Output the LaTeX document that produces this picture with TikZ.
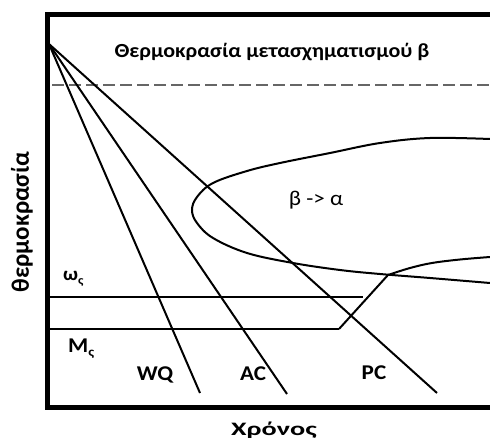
\documentclass[tikz,border=0pt]{standalone}
\usepackage{fontspec}
\setmainfont{Carlito}
\begin{document}
\begin{tikzpicture}[x=1pt,y=-1pt,
  thickline/.style={line width=2pt},
  thinline/.style={line width=1.2pt},
  framel/.style={line width=4.5pt},
  lbl/.style={font=\bfseries\fontsize{21}{22}\selectfont, inner sep=0pt, xscale=1.1, anchor=base},
  subs/.style={}]
\useasboundingbox (0,0) rectangle (490,441);
% frame
\draw[framel] (490,14.5) -- (47.5,14.5) -- (47.5,407.5) -- (490,407.5);
% dashed beta transus
\draw[line width=1.5pt, gray!80!black, dash pattern=on 12pt off 5pt] (52,85) -- (490,85);
% fan of cooling curves
\coordinate (o) at (49,44);
\coordinate (wq) at (200,393);
\coordinate (ac) at (287,394);
\coordinate (pc) at (437,393);
\draw[thickline] (o) -- (wq);
\draw[thickline] (o) -- (ac);
\draw[thickline] (o) -- (pc);
% omega_s and M_s lines
\coordinate (ws0) at (50,297);
\coordinate (ws1) at (363,297);
\coordinate (ms0) at (50,329);
\coordinate (ms1) at (339,329);
\coordinate (kn) at (388,275);
\draw[thinline] (ws0) -- (ws1);
\draw[thinline] (ms0) -- (ms1);
\draw[thickline] (ms1) -- (kn);
\draw[thickline] plot[smooth, tension=0.6] coordinates {(kn) (410,268) (432,263) (460,259.5) (490,257)};
% C-curve
\draw[thickline] plot[smooth, tension=0.6] coordinates {(490,139) (430,138) (380,143) (330,153) (280,163) (247,171) (213,183) (197,197) (192,210) (197,223) (213,238) (247,253) (293,263) (340,270) (380,274) (430,278) (490,283)};
% labels
\node[lbl, font=\bfseries\fontsize{20}{22}\selectfont] (title) at (272,58) {Θερμοκρασία μετασχηματισμού β};
\node[lbl, font=\fontsize{21}{22}\selectfont] (ba) at (316,205) {β -> α};
\node[lbl, anchor=base west, font=\bfseries\fontsize{19}{20}\selectfont] (ws) at (63,280) {ω\raisebox{-4pt}{\bfseries\fontsize{12}{12}\selectfont ς}};
\node[lbl, anchor=base west] (ms) at (68,352) {M\raisebox{-4pt}{\bfseries\fontsize{13}{13}\selectfont ς}};
\node[lbl] (wql) at (155,380) {WQ};
\node[lbl] (acl) at (253,380) {AC};
\node[lbl] (pcl) at (374,379) {PC};
\node[lbl, xscale=1.35, font=\bfseries\fontsize{19}{20}\selectfont] (time) at (274,435.5) {Χρόνος};
\node[inner sep=0pt, rotate=90, font=\bfseries\fontsize{25}{26}\selectfont] (temp) at (22,222) {θερμοκρασία};
\end{tikzpicture}
\end{document}
